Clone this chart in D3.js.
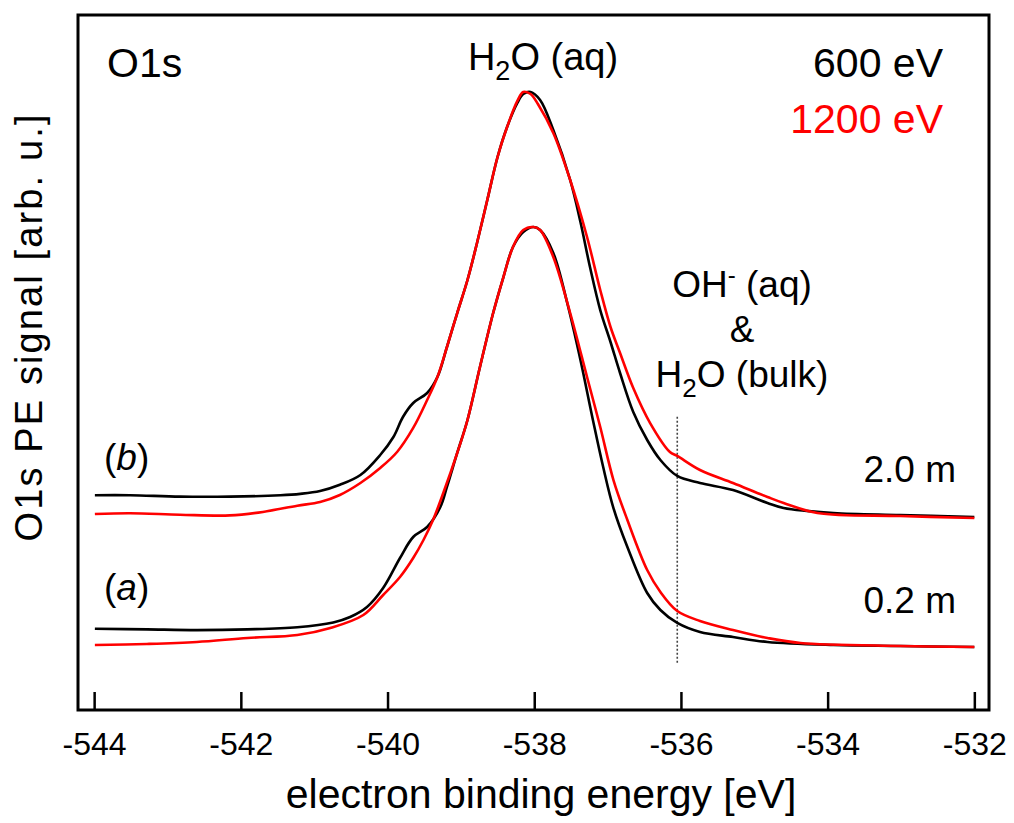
<!DOCTYPE html>
<html>
<head>
<meta charset="utf-8">
<script src="https://cdn.jsdelivr.net/npm/d3@7"></script>
<style>
  body { margin: 0; background: #fff; }
  text { font-family: "Liberation Sans", Arial, sans-serif; }
</style>
</head>
<body>
<svg id="chart" width="1014" height="823"></svg>
<script>
// O1s spectra, [binding energy (eV), signal (arb. u.)]
const energyTicks = [-544, -542, -540, -538, -536, -534, -532]

// (b) 2.0 m
const b600 = [
  [-543.99, 30.9], [-543.51, 30.9], [-542.83, 30.7], [-542.15, 30.7], [-541.46, 30.9],
  [-541.19, 31.1], [-540.92, 31.5], [-540.65, 32.4], [-540.37, 33.81], [-540.10, 36.69],
  [-539.92, 39.28], [-539.79, 42.16], [-539.65, 44.17], [-539.46, 45.61], [-539.32, 47.91],
  [-539.19, 52.23], [-539.05, 57.12], [-538.91, 61.87], [-538.78, 67.19], [-538.64, 73.38],
  [-538.50, 79.57], [-538.37, 83.88], [-538.23, 87.34], [-538.15, 88.63], [-538.05, 88.92],
  [-537.92, 87.77], [-537.74, 83.45], [-537.51, 76.26], [-537.37, 70.22], [-537.24, 63.74],
  [-537.10, 57.55], [-536.96, 52.95], [-536.83, 48.49], [-536.65, 42.88], [-536.46, 38.85],
  [-536.28, 35.97], [-536.05, 33.67], [-535.74, 32.66], [-535.29, 31.65], [-534.82, 29.78],
  [-534.60, 29.06], [-533.92, 28.35], [-533.01, 28.06], [-532.00, 27.77]
]
const b1200 = [
  [-543.99, 28.2], [-543.51, 28.3], [-542.83, 28.1], [-542.15, 28.0], [-541.70, 28.5],
  [-541.23, 29.4], [-540.92, 29.93], [-540.65, 30.94], [-540.37, 32.66], [-540.10, 34.82],
  [-539.87, 37.12], [-539.65, 40.58], [-539.46, 44.60], [-539.32, 47.91], [-539.19, 52.23],
  [-539.05, 57.12], [-538.91, 61.87], [-538.78, 67.19], [-538.64, 73.38], [-538.50, 79.57],
  [-538.37, 83.88], [-538.23, 87.63], [-538.15, 88.92], [-538.05, 88.63], [-537.95, 87.19],
  [-537.74, 83.02], [-537.51, 76.26], [-537.28, 68.06], [-537.10, 60.43], [-536.96, 55.11],
  [-536.83, 51.37], [-536.65, 46.33], [-536.42, 41.29], [-536.15, 37.12], [-536.05, 36.55],
  [-535.74, 34.53], [-535.29, 32.66], [-534.82, 30.65], [-534.60, 29.78], [-534.14, 28.35],
  [-533.01, 27.91], [-532.00, 27.63]
]

// (a) 0.2 m
const a600 = [
  [-543.99, 11.7], [-543.28, 11.6], [-542.60, 11.5], [-541.91, 11.6], [-541.23, 11.9],
  [-540.74, 12.6], [-540.51, 13.38], [-540.28, 14.82], [-540.06, 17.55], [-539.83, 21.87],
  [-539.65, 24.89], [-539.46, 26.33], [-539.28, 29.21], [-539.19, 32.09], [-539.05, 36.98],
  [-538.91, 41.73], [-538.74, 49.35], [-538.56, 57.12], [-538.42, 62.30], [-538.29, 66.62],
  [-538.15, 68.78], [-538.01, 69.50], [-537.92, 69.06], [-537.74, 65.76], [-537.55, 58.56],
  [-537.37, 50.36], [-537.20, 41.73], [-537.06, 34.96], [-536.92, 29.06], [-536.73, 23.45],
  [-536.46, 16.83], [-536.28, 14.39], [-536.05, 12.52], [-535.74, 11.22], [-535.29, 10.50],
  [-534.82, 9.78], [-533.92, 9.35], [-533.01, 9.21], [-532.00, 9.06]
]
const a1200 = [
  [-543.99, 9.35], [-543.28, 9.50], [-542.60, 9.78], [-541.91, 10.36], [-541.23, 10.79],
  [-540.78, 11.80], [-540.33, 13.67], [-540.06, 16.55], [-539.83, 19.14], [-539.65, 21.87],
  [-539.51, 24.46], [-539.38, 27.34], [-539.24, 31.22], [-539.05, 36.98], [-538.91, 41.73],
  [-538.74, 49.35], [-538.56, 57.12], [-538.42, 62.30], [-538.29, 66.62], [-538.15, 69.06],
  [-538.01, 69.50], [-537.92, 69.06], [-537.74, 65.18], [-537.51, 57.12], [-537.28, 47.91],
  [-537.10, 40.72], [-536.92, 33.09], [-536.73, 27.34], [-536.46, 20.14], [-536.28, 16.98],
  [-536.05, 14.24], [-535.74, 12.81], [-535.29, 11.51], [-534.82, 10.36], [-534.37, 9.64],
  [-533.01, 9.21], [-532.00, 9.06]
]

// OH- / bulk water marker
const markerEnergy = -536.05
const markerRange = [6.8, 42.2]

const series = [
  { data: b600, color: '#000' },
  { data: b1200, color: '#ff0000' },
  { data: a600, color: '#000' },
  { data: a1200, color: '#ff0000' }
]

let svg = d3.select('#chart')

let plotLeft = 78, plotRight = 989, plotTop = 15, plotBottom = 710

let x = d3.scaleLinear()
  .domain([-544.22, -531.8])
  .range([plotLeft, plotRight])

let y = d3.scaleLinear()
  .domain([0, 100])
  .range([plotBottom, plotTop])

// x axis, ticks pointing inward
let xAxis = d3.axisBottom(x)
  .tickValues(energyTicks)
  .tickFormat(d => String(d))
  .tickSizeInner(-18)
  .tickSizeOuter(0)
  .tickPadding(22)

let gx = svg.append('g')
  .attr('transform', 'translate(0,' + plotBottom + ')')
  .call(xAxis)
gx.select('.domain').remove()
gx.selectAll('.tick line').attr('stroke', '#000').attr('stroke-width', 2.5)
gx.selectAll('.tick text')
  .attr('fill', '#000')
  .style('font-size', '32px')
  .style('font-family', '"Liberation Sans", Arial, sans-serif')

// frame
svg.append('rect')
  .attr('x', plotLeft)
  .attr('y', plotTop)
  .attr('width', plotRight - plotLeft)
  .attr('height', plotBottom - plotTop)
  .attr('fill', 'none')
  .attr('stroke', '#000')
  .attr('stroke-width', 3)

// dotted marker line
svg.append('line')
  .attr('x1', x(markerEnergy))
  .attr('x2', x(markerEnergy))
  .attr('y1', y(markerRange[0]))
  .attr('y2', y(markerRange[1]))
  .attr('stroke', '#444')
  .attr('stroke-width', 1.6)
  .attr('stroke-dasharray', '2,2')

let line = d3.line()
  .x(d => x(d[0]))
  .y(d => y(d[1]))
  .curve(d3.curveCatmullRom.alpha(0.5))

svg.selectAll('path.spec')
  .data(series)
  .enter()
  .append('path')
  .attr('class', 'spec')
  .attr('d', d => line(d.data))
  .attr('fill', 'none')
  .attr('stroke', d => d.color)
  .attr('stroke-width', 2.6)
  .attr('stroke-linejoin', 'round')

// axis titles
svg.append('text')
  .attr('x', 541)
  .attr('y', 808)
  .attr('text-anchor', 'middle')
  .style('font-size', '41px')
  .text('electron binding energy [eV]')

svg.append('text')
  .attr('transform', 'translate(42,328) rotate(-90)')
  .attr('text-anchor', 'middle')
  .attr('textLength', 427)
  .attr('lengthAdjust', 'spacing')
  .style('font-size', '38px')
  .text('O1s PE signal [arb.  u.]')

// annotations
svg.append('text')
  .attr('x', 107).attr('y', 77)
  .style('font-size', '41px')
  .text('O1s')

svg.append('text')
  .attr('x', 943).attr('y', 77)
  .attr('text-anchor', 'end')
  .style('font-size', '41px')
  .text('600 eV')

svg.append('text')
  .attr('x', 943).attr('y', 133)
  .attr('text-anchor', 'end')
  .attr('fill', '#ff0000')
  .style('font-size', '41px')
  .text('1200 eV')

let h2o = svg.append('text')
  .attr('x', 543).attr('y', 70)
  .attr('text-anchor', 'middle')
  .style('font-size', '38px')
h2o.append('tspan').text('H')
h2o.append('tspan').attr('dy', 10).style('font-size', '27px').text('2')
h2o.append('tspan').attr('dy', -10).text('O (aq)')

let oh = svg.append('text')
  .attr('x', 742).attr('y', 297)
  .attr('text-anchor', 'middle')
  .style('font-size', '37px')
oh.append('tspan').text('OH')
oh.append('tspan').attr('dy', -14).style('font-size', '24px').text('-')
oh.append('tspan').attr('dy', 14).text(' (aq)')

svg.append('text')
  .attr('x', 742).attr('y', 342)
  .attr('text-anchor', 'middle')
  .style('font-size', '37px')
  .text('&')

let bulk = svg.append('text')
  .attr('x', 742).attr('y', 387)
  .attr('text-anchor', 'middle')
  .style('font-size', '37px')
bulk.append('tspan').text('H')
bulk.append('tspan').attr('dy', 10).style('font-size', '26px').text('2')
bulk.append('tspan').attr('dy', -10).text('O (bulk)')

svg.append('text')
  .attr('x', 956).attr('y', 482)
  .attr('text-anchor', 'end')
  .style('font-size', '37px')
  .text('2.0 m')

svg.append('text')
  .attr('x', 956).attr('y', 613)
  .attr('text-anchor', 'end')
  .style('font-size', '37px')
  .text('0.2 m')

let lb = svg.append('text')
  .attr('x', 104).attr('y', 470)
  .style('font-size', '37px')
lb.append('tspan').text('(')
lb.append('tspan').style('font-style', 'italic').text('b')
lb.append('tspan').text(')')

let la = svg.append('text')
  .attr('x', 104).attr('y', 600)
  .style('font-size', '37px')
la.append('tspan').text('(')
la.append('tspan').style('font-style', 'italic').text('a')
la.append('tspan').text(')')
</script>
</body>
</html>
